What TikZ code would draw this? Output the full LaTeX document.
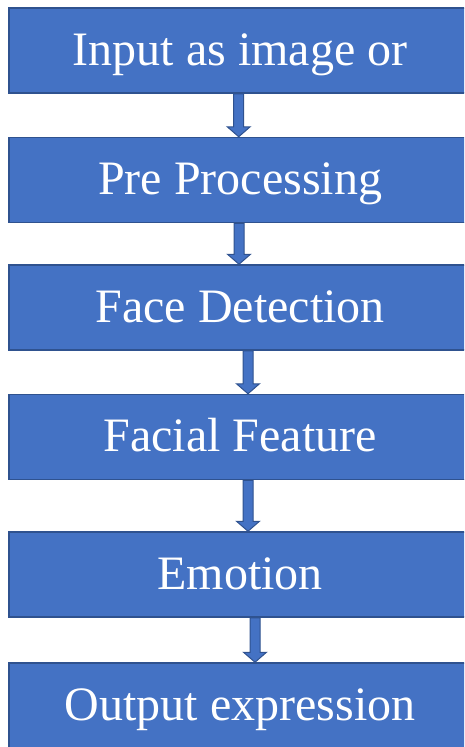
\documentclass[tikz,border=0pt]{standalone}
\usepackage{fontspec}
\setmainfont{Liberation Serif}
\usetikzlibrary{calc}
\definecolor{boxblue}{HTML}{4472C4}
\definecolor{edgeblue}{HTML}{2F528F}
\tikzset{
  stagebox/.style={draw=edgeblue, line width=1.5pt, fill=boxblue, text=white,
    minimum width=463pt, minimum height=85pt, inner sep=0pt,
    text height=32pt, text depth=3pt, font=\fontsize{48}{56}\selectfont},
  arrowbody/.style={draw=edgeblue, line width=1pt, fill=boxblue}
}
% block arrow: x position, from node, to node
\newcommand{\stagearrow}[3]{%
  \coordinate (ax) at (#1,0);
  \draw[arrowbody] ($(#2.south -| ax)+(-5,0)$) -- ($(#2.south -| ax)+(5,0)$)
    -- ($(#3.north -| ax)+(5,-10)$) -- ($(#3.north -| ax)+(11.5,-10)$)
    -- (#3.north -| ax) -- ($(#3.north -| ax)+(-11.5,-10)$)
    -- ($(#3.north -| ax)+(-5,-10)$) -- cycle;}

\begin{document}
\begin{tikzpicture}[x=1pt, y=-1pt]
\useasboundingbox (0,0) rectangle (464,747);
\clip (0,0) rectangle (464,747);
\node[stagebox] (input) at (240.25,50.5) {Input as image or};
\node[stagebox] (prep) at (240.25,180) {Pre Processing};
\node[stagebox] (face) at (240.25,307.5) {Face Detection};
\node[stagebox] (feat) at (240.25,437) {Facial Feature};
\node[stagebox] (emo) at (240.25,574.5) {Emotion};
\node[stagebox] (out) at (240.25,705.5) {Output expression};
\stagearrow{238.7}{input}{prep}
\stagearrow{239}{prep}{face}
\stagearrow{248}{face}{feat}
\stagearrow{248}{feat}{emo}
\stagearrow{255}{emo}{out}
\end{tikzpicture}
\end{document}
